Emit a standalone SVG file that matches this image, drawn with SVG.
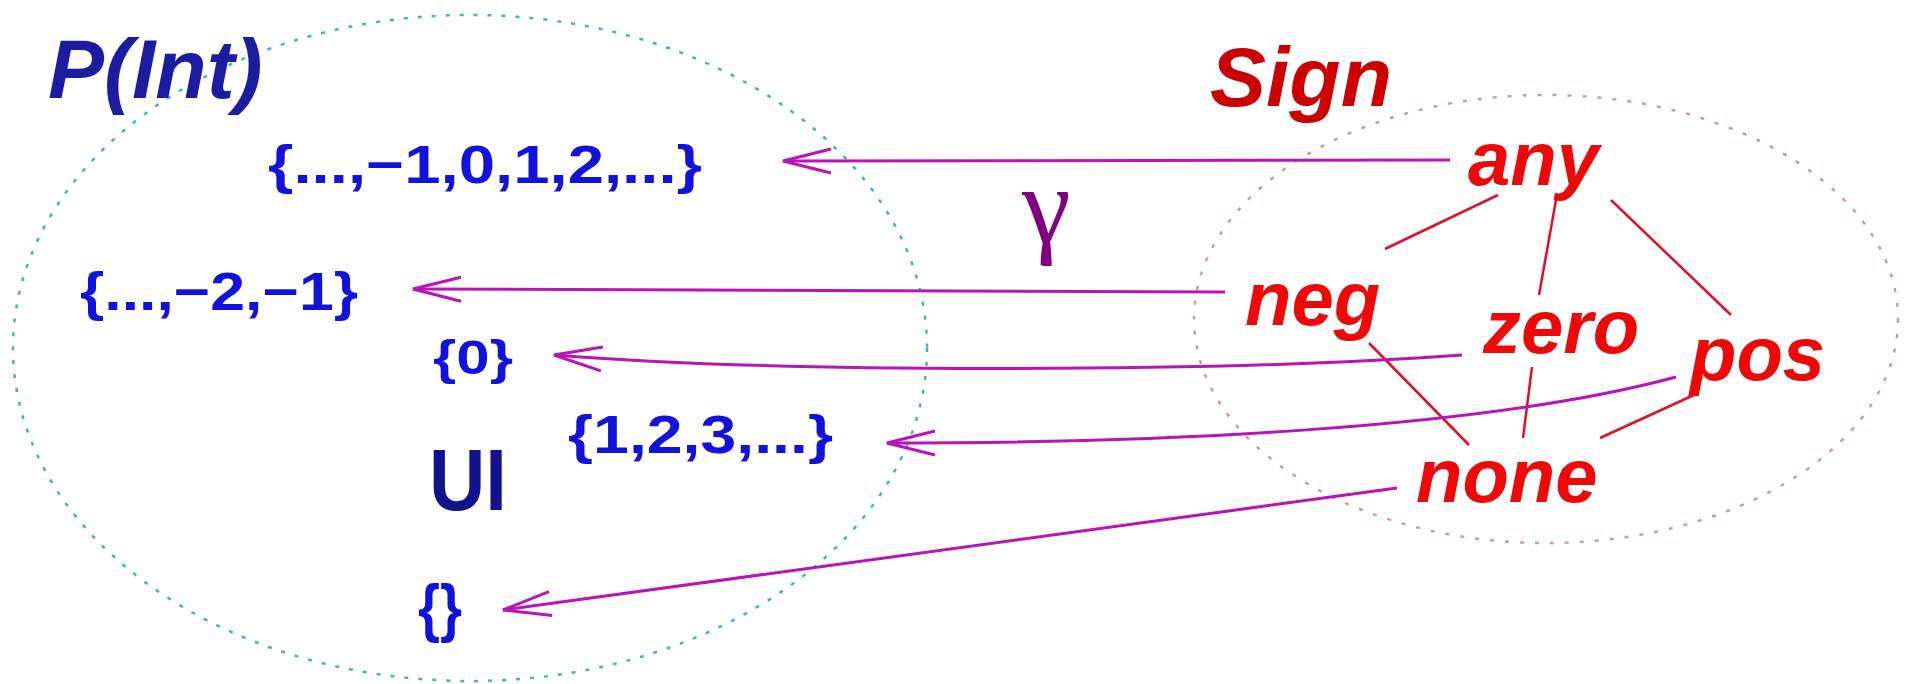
<svg xmlns="http://www.w3.org/2000/svg" width="1910" height="684" viewBox="0 0 1910 684">
<style>
.title{font-family:"Liberation Sans",Arial,sans-serif;font-weight:bold;font-style:italic;font-size:84px}
.set{font-family:"Liberation Sans",Arial,sans-serif;font-weight:bold;fill:#1212dc}
.lat{font-family:"Liberation Sans",Arial,sans-serif;font-weight:bold;font-style:italic;font-size:76px;fill:#ee0808}
.edge{stroke:#e01028;stroke-width:2.5;fill:none}
.gam{stroke:#b814b8;stroke-width:3;fill:none;marker-end:url(#ah)}
</style>
<defs>
<marker id="ah" markerUnits="userSpaceOnUse" markerWidth="60" markerHeight="30" viewBox="-55 -15 60 30" refX="0" refY="0" orient="auto" overflow="visible">
<path d="M-48,-12 L0,0 L-48,12" fill="none" stroke="#b814b8" stroke-width="3"/>
</marker>
</defs>
<rect width="1910" height="684" fill="#ffffff"/>
<g id="regions">
<ellipse id="pint-set" cx="470" cy="348" rx="457" ry="333" fill="none" stroke="#3ab8b8" stroke-width="2.5" stroke-dasharray="4 10"/>
<ellipse id="sign-set" cx="1546" cy="319" rx="352" ry="224" fill="none" stroke="#d09a9a" stroke-width="2.5" stroke-dasharray="4 11"/>
</g>
<g id="titles">
<text id="t-pint" class="title" x="48" y="98" fill="#1c1ca0">P(Int)</text>
<text id="t-sign" class="title" x="1210" y="106" fill="#cc0000">Sign</text>
</g>
<g id="connectors">
<line class="edge" x1="1498" y1="195" x2="1385" y2="249"/>
<line class="edge" x1="1556" y1="200" x2="1539" y2="295"/>
<line class="edge" x1="1611" y1="200" x2="1731" y2="315"/>
<line class="edge" x1="1369" y1="343" x2="1469" y2="445"/>
<line class="edge" x1="1532" y1="367" x2="1523" y2="438"/>
<line class="edge" x1="1694" y1="395" x2="1600" y2="438"/>
<path class="gam" d="M1450,160 L783,161"/>
<path class="gam" d="M1225,292 L413,289"/>
<path class="gam" d="M1462,355 C1200,374 760,372 554,355"/>
<path class="gam" d="M1676,377 C1480,430 1150,443 887,443"/>
<path class="gam" d="M1397,488 L503,610"/>
<text id="gamma" x="1022" y="243" font-family="'Liberation Serif','Times New Roman',serif" font-size="110" fill="#800080">γ</text>
</g>
<g id="n-all"><text class="set" x="268" y="183" font-size="53" textLength="434" lengthAdjust="spacingAndGlyphs">{...,−1,0,1,2,...}</text></g>
<g id="n-neg-set"><text class="set" x="80" y="310" font-size="53" textLength="278" lengthAdjust="spacingAndGlyphs">{...,−2,−1}</text></g>
<g id="n-zero-set"><text class="set" x="433" y="374" font-size="48" textLength="80" lengthAdjust="spacingAndGlyphs">{0}</text></g>
<g id="n-pos-set"><text class="set" x="568" y="453" font-size="54" textLength="265" lengthAdjust="spacingAndGlyphs">{1,2,3,...}</text></g>
<g id="n-union"><text x="429" y="510" font-family="'Liberation Sans',Arial,sans-serif" font-weight="bold" font-size="88" fill="#12128c" textLength="78" lengthAdjust="spacingAndGlyphs">UI</text></g>
<g id="n-empty"><text class="set" x="418" y="630" font-size="64" textLength="44" lengthAdjust="spacingAndGlyphs">{}</text></g>
<g id="n-any"><text class="lat" x="1468" y="185">any</text></g>
<g id="n-neg"><text class="lat" x="1245" y="325">neg</text></g>
<g id="n-zero"><text class="lat" x="1483" y="353">zero</text></g>
<g id="n-pos"><text class="lat" x="1690" y="380">pos</text></g>
<g id="n-none"><text class="lat" x="1416" y="502">none</text></g>
</svg>
